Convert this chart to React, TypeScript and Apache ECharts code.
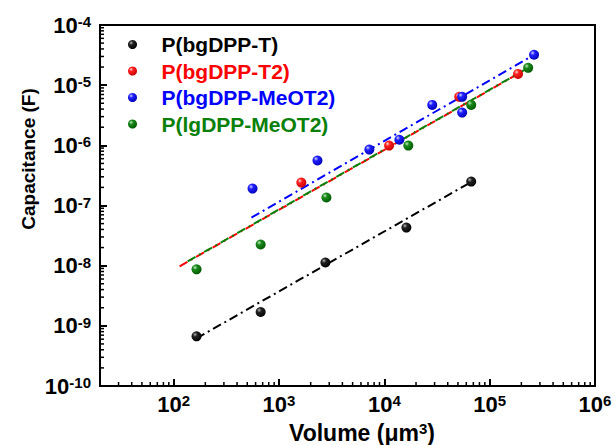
import React, { useEffect, useRef } from 'react';
import * as echarts from 'echarts';

// ---- Data ----
const seriesNames = ['P(bgDPP-T)', 'P(bgDPP-T2)', 'P(bgDPP-MeOT2)', 'P(lgDPP-MeOT2)'];

const blackX = [165, 670, 2760, 16200, 66800];
const blackY = [6.7e-10, 1.7e-9, 1.13e-8, 4.3e-8, 2.5e-7];

const redX = [1630, 11100, 51400, 186000];
const redY = [2.4e-7, 9.9e-7, 6.4e-6, 1.54e-5];

const blueX = [561, 2320, 7210, 13900, 28500, 54800, 54800, 264000];
const blueY = [1.91e-7, 5.6e-7, 8.5e-7, 1.24e-6, 4.7e-6, 6.4e-6, 3.5e-6, 3.2e-5];

const greenX = [165, 670, 2820, 16900, 66800, 232000];
const greenY = [8.7e-9, 2.25e-8, 1.36e-7, 9.9e-7, 4.7e-6, 1.94e-5];

// Fit lines (end points)
const fitBlackX = [165, 68000];
const fitBlackY = [6.2e-10, 2.5e-7];
const fitRedX = [114, 186000];
const fitRedY = [9.75e-9, 1.54e-5];
const fitGreenX = [136, 232000];
const fitGreenY = [1.18e-8, 1.94e-5];
const fitBlueX = [548, 264000];
const fitBlueY = [6.3e-8, 3.2e-5];

// Axis ranges and ticks
const X_MIN = 20;
const X_MAX = 1e6;
const Y_MIN = 1e-10;
const Y_MAX = 1e-4;
const minorMultiples = [2, 3, 4, 5, 6, 7, 8, 9];
const xDecades = [10, 100, 1000, 10000, 100000];
const yDecades = [1e-10, 1e-9, 1e-8, 1e-7, 1e-6, 1e-5];

const xTitle = '{a|Volume (μm}{s|3}{a|)}';
const yTitle = 'Capacitance (F)';

const FONT = '"Liberation Sans", Arial, Helvetica, sans-serif';

const xMinorTicks: number[] = [];
xDecades.forEach((d) => minorMultiples.forEach((m) => {
  const v = d * m;
  if (v > X_MIN && v < X_MAX) xMinorTicks.push(v);
}));
const yMinorTicks: number[] = [];
yDecades.forEach((d) => minorMultiples.forEach((m) => {
  const v = d * m;
  if (v > Y_MIN && v < Y_MAX) yMinorTicks.push(v);
}));

const zip = (xs: number[], ys: number[]) => xs.map((x, i) => [x, ys[i]]);

function ball(light: string, base: string, dark: string) {
  return {
    type: 'radial',
    x: 0.35,
    y: 0.32,
    r: 0.75,
    colorStops: [
      { offset: 0, color: light },
      { offset: 0.3, color: base },
      { offset: 1, color: dark },
    ],
  };
}

const colors = ['#000000', '#ff0000', '#0000ff', '#0a800a'];
const balls = [
  ball('#b8b8b8', '#222222', '#000000'),
  ball('#ffd8d8', '#ff2020', '#c00000'),
  ball('#d8d8ff', '#2020ff', '#0000b0'),
  ball('#c8ecc8', '#1a8a1a', '#005500'),
];

const supFmt = (v: number) => {
  const e = Math.log10(v);
  const r = Math.round(e);
  if (Math.abs(e - r) > 1e-6) return '';
  return `{b|10}{s|${r}}`;
};

const richLabel = {
  b: { fontSize: 22, fontWeight: 'bold', fontFamily: FONT, color: '#000', lineHeight: 22 },
  s: { fontSize: 15, fontWeight: 'bold', fontFamily: FONT, color: '#000', lineHeight: 15, verticalAlign: 'top' },
};

export default function App() {
  const ref = useRef<HTMLDivElement>(null);

  useEffect(() => {
    if (!ref.current) return;
    const chart = echarts.init(ref.current, undefined, { renderer: 'svg' });

    const dash = [9, 4, 2, 4];
    const fitSeries = [
      { name: 'fitBlack', xs: fitBlackX, ys: fitBlackY, c: colors[0] },
      { name: 'fitRed', xs: fitRedX, ys: fitRedY, c: colors[1] },
      { name: 'fitGreen', xs: fitGreenX, ys: fitGreenY, c: colors[3] },
      { name: 'fitBlue', xs: fitBlueX, ys: fitBlueY, c: colors[2] },
    ].map((f) => ({
      name: f.name,
      type: 'line',
      data: zip(f.xs, f.ys),
      showSymbol: false,
      symbol: 'none',
      silent: true,
      z: 3,
      lineStyle: { color: f.c, width: 2, type: dash },
    }));

    const pts = [zip(blackX, blackY), zip(redX, redY), zip(blueX, blueY), zip(greenX, greenY)];
    const scatterSeries = seriesNames.map((n, i) => ({
      name: n,
      type: 'scatter',
      data: pts[i],
      symbol: 'circle',
      symbolSize: 10,
      z: 6,
      itemStyle: { color: balls[i], opacity: 1 },
    }));

    const option: any = {
      animation: false,
      textStyle: { fontFamily: FONT },
      grid: {
        left: 100,
        right: 21,
        top: 25,
        bottom: 59,
        show: true,
        borderColor: '#000',
        borderWidth: 2,
        backgroundColor: 'transparent',
      },
      legend: {
        orient: 'vertical',
        left: 123,
        top: 29,
        itemWidth: 48,
        itemHeight: 9,
        itemGap: 5.5,
        icon: 'circle',
        selectedMode: false,
        textStyle: { fontSize: 21, fontWeight: 'bold', fontFamily: FONT, lineHeight: 21 },
        data: seriesNames.map((n, i) => ({ name: n, textStyle: { color: colors[i] } })),
      },
      graphic: [
        {
          type: 'text',
          x: 28,
          y: 159,
          rotation: Math.PI / 2,
          silent: true,
          style: {
            text: yTitle,
            fontSize: 19,
            fontWeight: 'bold',
            fontFamily: FONT,
            fill: '#000',
            align: 'center',
            verticalAlign: 'middle',
          },
        },
        {
          type: 'text',
          x: 362,
          y: 433,
          silent: true,
          style: {
            text: xTitle,
            align: 'center',
            verticalAlign: 'middle',
            rich: {
              a: { fontSize: 23, fontWeight: 'bold', fontFamily: FONT, fill: '#000', lineHeight: 24 },
              s: { fontSize: 15, fontWeight: 'bold', fontFamily: FONT, fill: '#000', lineHeight: 15, verticalAlign: 'top' },
            },
          },
        },
      ],
      xAxis: {
        type: 'log',
        min: X_MIN,
        max: X_MAX,
        logBase: 10,
        axisLine: { show: true, lineStyle: { color: '#000', width: 2 } },
        axisTick: { show: true, inside: true, length: 7, lineStyle: { color: '#000', width: 2 } },
        axisLabel: { formatter: supFmt, rich: richLabel, margin: 7, showMinLabel: false },
        splitLine: { show: false },
      },
      yAxis: {
        type: 'log',
        min: Y_MIN,
        max: Y_MAX,
        logBase: 10,
        axisLine: { show: true, lineStyle: { color: '#000', width: 2 } },
        axisTick: { show: true, inside: true, length: 7, lineStyle: { color: '#000', width: 2 } },
        axisLabel: { formatter: supFmt, rich: richLabel, margin: 9 },
        splitLine: { show: false },
      },
      series: [
        ...fitSeries,
        ...scatterSeries,
        {
          name: 'xMinor',
          type: 'custom',
          coordinateSystem: 'cartesian2d',
          silent: true,
          clip: false,
          z: 4,
          data: xMinorTicks.map((v) => [v, Y_MIN]),
          renderItem: (_p: any, api: any) => {
            const p = api.coord([api.value(0), api.value(1)]);
            return {
              type: 'line',
              shape: { x1: p[0], y1: p[1], x2: p[0], y2: p[1] - 4 },
              style: { stroke: '#000', lineWidth: 1.5 },
            };
          },
        },
        {
          name: 'yMinor',
          type: 'custom',
          coordinateSystem: 'cartesian2d',
          silent: true,
          clip: false,
          z: 4,
          data: yMinorTicks.map((v) => [X_MIN, v]),
          renderItem: (_p: any, api: any) => {
            const p = api.coord([api.value(0), api.value(1)]);
            return {
              type: 'line',
              shape: { x1: p[0], y1: p[1], x2: p[0] + 4, y2: p[1] },
              style: { stroke: '#000', lineWidth: 1.5 },
            };
          },
        },
      ],
    };

    chart.setOption(option);
    return () => chart.dispose();
  }, []);

  return (
    <div
      ref={ref}
      style={{ position: 'fixed', left: 0, top: 0, width: 616, height: 445, background: '#fff' }}
    />
  );
}
